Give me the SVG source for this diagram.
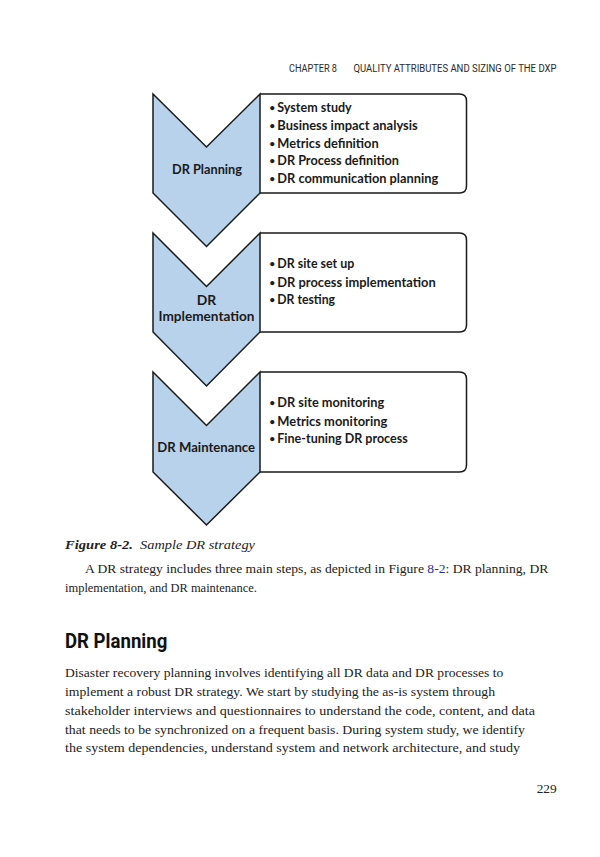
<svg xmlns="http://www.w3.org/2000/svg" width="600" height="857" viewBox="0 0 600 857">
<style>
.chev{fill:#b9d2ec;stroke:#1a1a1a;stroke-width:1.5;stroke-linejoin:miter}
.box{fill:#ffffff;stroke:#1a1a1a;stroke-width:1.5}
.lbl{font-family:Lato,"Open Sans",sans-serif;font-weight:bold;font-size:13px;fill:#1a1a1a}
.bul{font-family:Lato,"Open Sans",sans-serif;font-weight:bold;font-size:12.5px;fill:#1a1a1a}
.dot{font-size:9.5px}
.hdr{font-family:Roboto,"Liberation Sans",sans-serif;font-size:10.5px;fill:#2a2a2a}
.body{font-family:"Liberation Serif",serif;font-size:13.5px;fill:#222}
.cap{font-family:"Liberation Serif",serif;font-size:13.5px;font-style:italic;fill:#222}
.h2{font-family:Roboto,"Liberation Sans",sans-serif;font-weight:bold;font-size:20px;fill:#111}
</style>
<rect width="600" height="857" fill="#ffffff"/>
<g id="header">
<text class="hdr" x="289" y="71.5" textLength="48" lengthAdjust="spacingAndGlyphs">CHAPTER 8</text>
<text class="hdr" x="353.5" y="71.5" textLength="203" lengthAdjust="spacingAndGlyphs">QUALITY ATTRIBUTES AND SIZING OF THE DXP</text>
</g>
<g id="connectors"></g>
<g id="node-planning">
<path class="box" d="M260,94 H459.5 Q466.5,94 466.5,101 V186 Q466.5,193 459.5,193 H260"/>
<polygon class="chev" points="153,94 206.5,147 260,94 260,193 206.5,246.5 153,193"/>
<text class="lbl" x="207" y="174.3" text-anchor="middle" textLength="70" lengthAdjust="spacingAndGlyphs">DR Planning</text>
<g class="bul">
<text class="dot" x="269.5" y="111.3">•</text><text x="277.3" y="112.3" textLength="74.4" lengthAdjust="spacingAndGlyphs">System study</text>
<text class="dot" x="269.5" y="129">•</text><text x="277.3" y="130" textLength="140.4" lengthAdjust="spacingAndGlyphs">Business impact analysis</text>
<text class="dot" x="269.5" y="146.7">•</text><text x="277.3" y="147.7" textLength="101.4" lengthAdjust="spacingAndGlyphs">Metrics definition</text>
<text class="dot" x="269.5" y="164">•</text><text x="277.3" y="165" textLength="121.7" lengthAdjust="spacingAndGlyphs">DR Process definition</text>
<text class="dot" x="269.5" y="181.7">•</text><text x="277.3" y="182.7" textLength="161" lengthAdjust="spacingAndGlyphs">DR communication planning</text>
</g>
</g>
<g id="node-implementation">
<path class="box" d="M260,233 H459.5 Q466.5,233 466.5,240 V325 Q466.5,332 459.5,332 H260"/>
<polygon class="chev" points="153,233 206.5,286.5 260,233 260,332 206.5,386 153,332"/>
<text class="lbl" x="206.5" y="305" text-anchor="middle" textLength="19.5" lengthAdjust="spacingAndGlyphs">DR</text>
<text class="lbl" x="206.5" y="320.5" text-anchor="middle" textLength="96" lengthAdjust="spacingAndGlyphs">Implementation</text>
<g class="bul">
<text class="dot" x="269.5" y="267.3">•</text><text x="277.3" y="268.3" textLength="77" lengthAdjust="spacingAndGlyphs">DR site set up</text>
<text class="dot" x="269.5" y="285.7">•</text><text x="277.3" y="286.7" textLength="158.4" lengthAdjust="spacingAndGlyphs">DR process implementation</text>
<text class="dot" x="269.5" y="303.3">•</text><text x="277.3" y="304.3" textLength="57.7" lengthAdjust="spacingAndGlyphs">DR testing</text>
</g>
</g>
<g id="node-maintenance">
<path class="box" d="M260,372 H459.5 Q466.5,372 466.5,379 V465 Q466.5,472 459.5,472 H260"/>
<polygon class="chev" points="153,372 206.5,425.5 260,372 260,472 206.5,525 153,472"/>
<text class="lbl" x="206.2" y="451.7" text-anchor="middle" textLength="97.7" lengthAdjust="spacingAndGlyphs">DR Maintenance</text>
<g class="bul">
<text class="dot" x="269.5" y="406.3">•</text><text x="277.3" y="407.3" textLength="107" lengthAdjust="spacingAndGlyphs">DR site monitoring</text>
<text class="dot" x="269.5" y="424.7">•</text><text x="277.3" y="425.7" textLength="110" lengthAdjust="spacingAndGlyphs">Metrics monitoring</text>
<text class="dot" x="269.5" y="442.3">•</text><text x="277.3" y="443.3" textLength="130.4" lengthAdjust="spacingAndGlyphs">Fine-tuning DR process</text>
</g>
</g>
<g id="caption">
<text class="cap" x="65" y="549.3" font-weight="bold" textLength="68" lengthAdjust="spacingAndGlyphs">Figure 8-2.</text>
<text class="cap" x="140" y="549.3" textLength="115" lengthAdjust="spacingAndGlyphs">Sample DR strategy</text>
</g>
<g id="text-body">
<text class="body" x="85" y="573.3" textLength="463.3" lengthAdjust="spacingAndGlyphs">A DR strategy includes three main steps, as depicted in Figure <tspan fill="#2b2f9e">8-2</tspan>: DR planning, DR</text>
<text class="body" x="65" y="592.3" textLength="192" lengthAdjust="spacingAndGlyphs">implementation, and DR maintenance.</text>
<text class="h2" x="65" y="648.3" textLength="102.3" lengthAdjust="spacingAndGlyphs">DR Planning</text>
<text class="body" x="65" y="676.7" textLength="438.3" lengthAdjust="spacingAndGlyphs">Disaster recovery planning involves identifying all DR data and DR processes to</text>
<text class="body" x="65" y="696" textLength="430" lengthAdjust="spacingAndGlyphs">implement a robust DR strategy. We start by studying the as-is system through</text>
<text class="body" x="65" y="715" textLength="470" lengthAdjust="spacingAndGlyphs">stakeholder interviews and questionnaires to understand the code, content, and data</text>
<text class="body" x="65" y="734" textLength="460" lengthAdjust="spacingAndGlyphs">that needs to be synchronized on a frequent basis. During system study, we identify</text>
<text class="body" x="65" y="752.3" textLength="455" lengthAdjust="spacingAndGlyphs">the system dependencies, understand system and network architecture, and study</text>
<text class="body" x="556.7" y="793.3" text-anchor="end" textLength="20" lengthAdjust="spacingAndGlyphs">229</text>
</g>
</svg>
